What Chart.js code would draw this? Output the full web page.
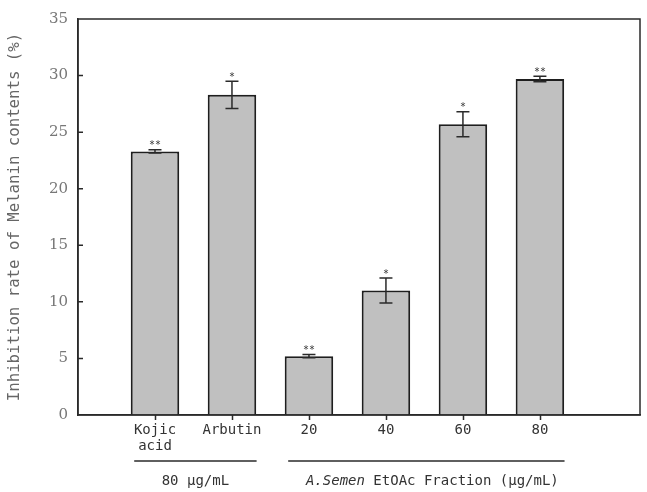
<!DOCTYPE html>
<html>
<head>
<meta charset="utf-8">
<script src="https://cdn.jsdelivr.net/npm/chart.js@4.4.1/dist/chart.umd.min.js"></script>
<style>
  html, body { margin: 0; padding: 0; background: #fff; }
  #wrap { width: 647px; height: 492px; }
</style>
</head>
<body>
<div id="wrap"><canvas id="melaninChart"></canvas></div>
<script>
const categories = [['Kojic', 'acid'], 'Arbutin', '20', '40', '60', '80'];
const inhibition = [23.3, 28.3, 5.2, 11.0, 25.7, 29.7];
const errors = [0.15, 1.2, 0.15, 1.1, 1.1, 0.25];
const significance = ['**', '*', '**', '*', '*', '**'];
const yTicks = [0, 5, 10, 15, 20, 25, 30, 35];
const groupLabels = [['80 μg/mL'], ['A.Semen', ' EtOAc Fraction (μg/mL)']];
const groupFirst = [0, 2];
const groupLast = [1, 5];

const ink = '#2a2a2a';

// frame, axis ticks, error bars, asterisks and the group brackets under the axis
const decorations = {
  id: 'decorations',
  afterDatasetsDraw(chart) {
    const { ctx, chartArea: a, scales: { x, y } } = chart;
    ctx.save();
    ctx.strokeStyle = ink;
    ctx.lineWidth = 1.5;
    ctx.strokeRect(a.left, a.top, a.right - a.left, a.bottom - a.top);

    ctx.beginPath();
    yTicks.forEach(v => {
      if (v <= 0 || v >= 35) return;
      const py = y.getPixelForValue(v);
      ctx.moveTo(a.left, py);
      ctx.lineTo(a.left + 5, py);
    });
    categories.forEach((c, i) => {
      const px = Math.round(x.getPixelForValue(i + 1)) + 0.5;
      ctx.moveTo(px, a.bottom);
      ctx.lineTo(px, a.bottom + 5);
    });
    ctx.stroke();

    ctx.fillStyle = '#333';
    ctx.font = '10px "DejaVu Sans Mono"';
    ctx.textAlign = 'center';
    ctx.textBaseline = 'alphabetic';
    inhibition.forEach((v, i) => {
      const px = x.getPixelForValue(i + 1);
      const top = y.getPixelForValue(v + errors[i]);
      const bot = y.getPixelForValue(v - errors[i]);
      ctx.beginPath();
      ctx.moveTo(px, top); ctx.lineTo(px, bot);
      ctx.moveTo(px - 6.5, top); ctx.lineTo(px + 6.5, top);
      ctx.moveTo(px - 6.5, bot); ctx.lineTo(px + 6.5, bot);
      ctx.stroke();
      ctx.fillText(significance[i], px, top - 1.5);
    });

    const lineY = a.bottom + 46;
    const textY = a.bottom + 66;
    ctx.textBaseline = 'middle';
    ctx.textAlign = 'left';
    groupLabels.forEach((parts, g) => {
      const x0 = x.getPixelForValue(groupFirst[g] + 1 - 0.27);
      const x1 = x.getPixelForValue(groupLast[g] + 1 + 0.32);
      ctx.beginPath();
      ctx.moveTo(x0, lineY);
      ctx.lineTo(x1, lineY);
      ctx.stroke();
      const fonts = parts.map((p, k) =>
        (parts.length > 1 && k === 0 ? 'italic ' : '') + '14px "DejaVu Sans Mono"');
      let total = 0;
      parts.forEach((p, k) => { ctx.font = fonts[k]; total += ctx.measureText(p).width; });
      let tx = (x0 + x1) / 2 - total / 2 + (parts.length > 1 ? 6 : 0);
      parts.forEach((p, k) => {
        ctx.font = fonts[k];
        ctx.fillText(p, tx, textY);
        tx += ctx.measureText(p).width;
      });
    });
    ctx.restore();
  }
};

new Chart(document.getElementById('melaninChart'), {
  type: 'bar',
  data: {
    datasets: [{
      data: inhibition.map((v, i) => ({ x: i + 1, y: v })),
      backgroundColor: '#c0c0c0',
      borderColor: '#1e1e1e',
      borderWidth: 2,
      barPercentage: 0.63,
      categoryPercentage: 1
    }]
  },
  options: {
    responsive: true,
    maintainAspectRatio: false,
    animation: false,
    layout: { padding: { top: 9, right: 7, left: 0, bottom: 0 } },
    plugins: { legend: { display: false }, tooltip: { enabled: false } },
    scales: {
      x: {
        type: 'linear',
        offset: false,
        min: 0,
        max: 7.3,
        afterBuildTicks: scale => { scale.ticks = categories.map((c, i) => ({ value: i + 1 })); },
        afterFit: scale => { scale.height = 77; },
        ticks: {
          callback: v => categories[v - 1] ?? '',
          color: '#333',
          font: { family: 'DejaVu Sans Mono', size: 14, lineHeight: 1.1 },
          padding: 8,
          maxRotation: 0,
          autoSkip: false
        },
        grid: { offset: false, drawOnChartArea: false, drawTicks: false },
        border: { color: ink, width: 1.5 }
      },
      y: {
        min: 0,
        max: 35,
        afterBuildTicks: scale => { scale.ticks = yTicks.map(v => ({ value: v })); },
        afterFit: scale => { scale.width = 78; },
        ticks: {
          color: '#777',
          font: { family: 'DejaVu Serif', size: 15 },
          padding: 10
        },
        grid: { drawOnChartArea: false, drawTicks: false },
        border: { color: ink, width: 1.5 },
        title: {
          display: true,
          text: 'Inhibition rate of Melanin contents (%)',
          color: '#666',
          font: { family: 'DejaVu Sans Mono', size: 15.7 },
          padding: { top: 6, bottom: 0 }
        }
      }
    }
  },
  plugins: [decorations]
});
</script>
</body>
</html>
